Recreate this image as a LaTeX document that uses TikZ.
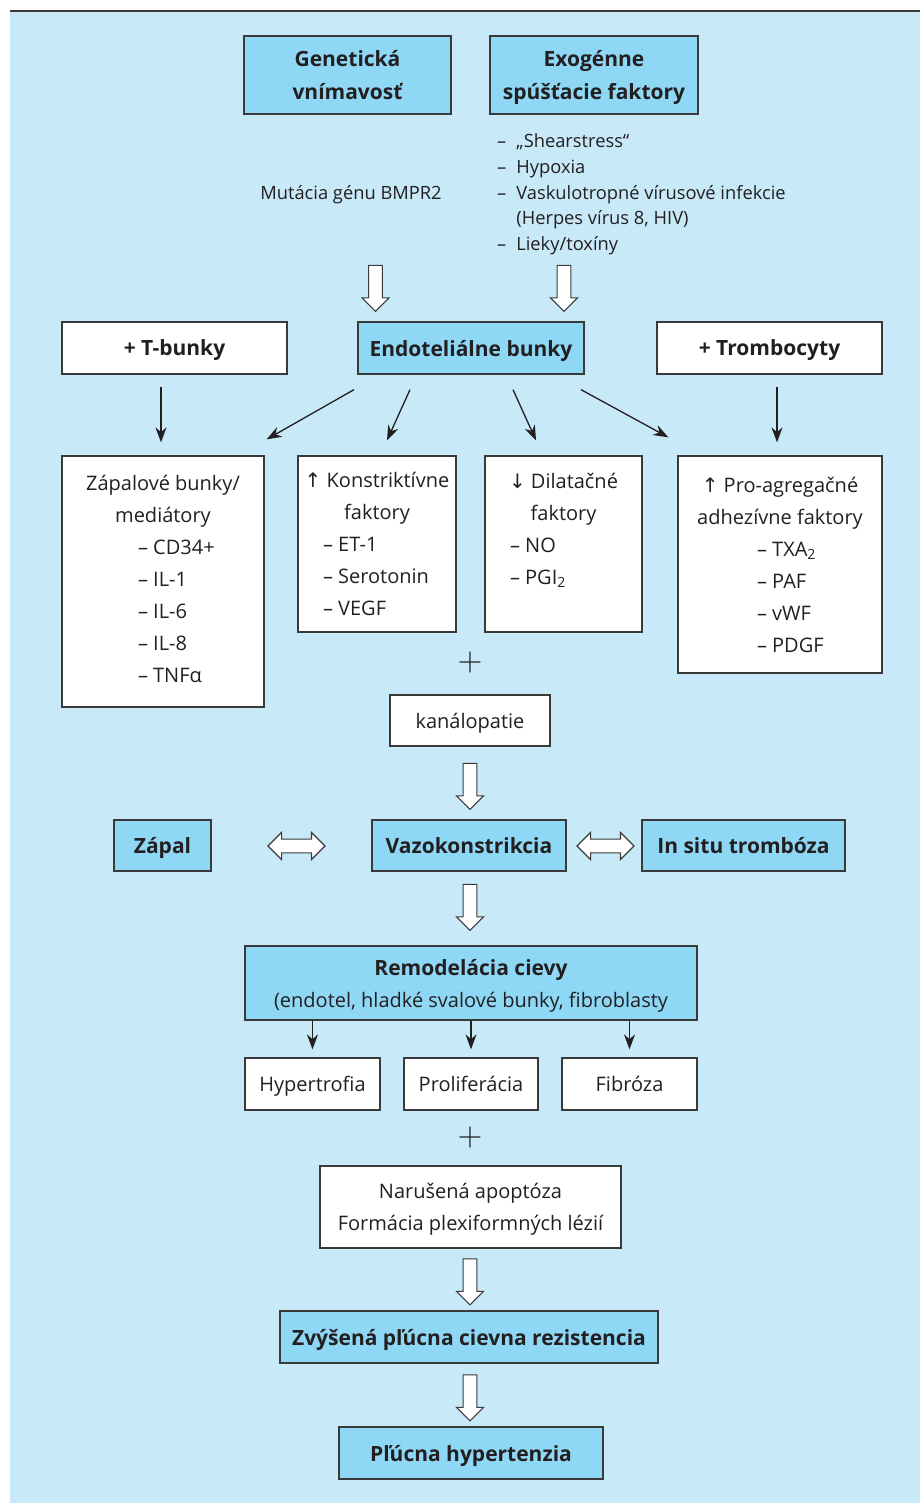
\documentclass[tikz,border=0pt]{standalone}
\usepackage{fontspec}
\setmainfont{Open Sans}
\newfontfamily\arrfont{DejaVu Sans}
\usepackage{graphicx}
\usepackage{tikz}
\usetikzlibrary{arrows.meta,shapes.arrows,positioning}
\definecolor{bgblue}{HTML}{C7E9F8}
\definecolor{boxblue}{HTML}{8ED8F6}
\definecolor{edge}{HTML}{3A3A3A}
\definecolor{ink}{HTML}{231F20}
\newcommand{\boxfont}{\fontsize{20}{32}\selectfont}
\newcommand{\titlefont}{\fontsize{21}{33}\selectfont\bfseries}
\newcommand{\listfont}{\fontsize{18.3}{25.7}\selectfont}
\newcommand{\upa}{{\arrfont ↑}}
\newcommand{\dna}{{\arrfont ↓}}
\newcommand{\itm}[2]{\makebox[#1pt][l]{– #2}}

\begin{document}
\begin{tikzpicture}[
    x=1pt, y=-1pt, % one unit = one pixel of the figure
    every node/.style={text=ink, font=\boxfont},
    bluebox/.style={draw=edge, line width=1.3pt, fill=boxblue, inner sep=0pt, align=center, text depth=0pt, font=\titlefont},
    whitebox/.style={draw=edge, line width=1.3pt, fill=white, inner sep=0pt, align=center, text depth=0pt},
    arr/.style={-{Stealth[length=15pt,width=11pt]}, line width=1.3pt, draw=ink},
    hollow/.style={single arrow, draw=edge, fill=white, line width=1.1pt, inner sep=6.3pt,
        minimum height=46pt, minimum width=26pt, single arrow head extend=6.7pt, rotate=-90},
    dhollow/.style={double arrow, draw=edge, fill=white, line width=1.1pt, inner sep=6.3pt,
        minimum height=57pt, minimum width=26pt, double arrow head extend=6.7pt}
]
    \useasboundingbox (0,0) rectangle (920,1503);
    \fill[edge] (10,10) rectangle (920,12.5);
    \fill[bgblue] (10,12.5) rectangle (920,1503);

    % causes
    \node[bluebox, minimum width=207pt, minimum height=78pt] (gen) at (347.5,75) {Genetická\\vnímavosť};
    \node[bluebox, minimum width=208pt, minimum height=78pt] (exo) at (594,75) {Exogénne\\spúšťacie faktory};
    \node[font=\listfont] (mut) at (351,194.5) {Mutácia génu BMPR2};
    \node[font=\listfont, anchor=west, inner sep=0pt] (trig) at (497,194) {%
        \begin{tabular}{@{}l@{\hspace{10pt}}l@{}}
        – & „Shearstress“\\
        – & Hypoxia\\
        – & Vaskulotropné vírusové infekcie\\
          & (Herpes vírus 8, HIV)\\
        – & Lieky/toxíny
        \end{tabular}};
    \node[hollow] (h1) at (375.5,285) {};
    \node[hollow] (h2) at (564,285) {};

    % cells
    \node[whitebox, font=\titlefont, minimum width=225pt, minimum height=52pt] (tcell) at (174.5,348) {+ T-bunky};
    \node[bluebox, minimum width=226pt, minimum height=52pt] (endo) at (471,348) {Endoteliálne bunky};
    \node[whitebox, font=\titlefont, minimum width=225pt, minimum height=52pt] (tromb) at (769.5,348) {+ Trombocyty};

    % factors
    \node[whitebox, text depth=6pt, minimum width=202pt, minimum height=251pt] (zap) at (163,581.5)
        {Zápalové bunky/\\mediátory\\\itm{50}{CD34+}\\\itm{50}{IL-1}\\\itm{50}{IL-6}\\\itm{50}{IL-8}\\\itm{50}{TNFα}};
    \node[whitebox, minimum width=158pt, minimum height=176pt] (kon) at (377,544)
        {\upa\ Konstriktívne\\faktory\\\itm{108}{ET-1}\\\itm{108}{Serotonin}\\\itm{108}{VEGF}};
    \node[whitebox, text depth=30pt, minimum width=157pt, minimum height=176pt] (dil) at (563.5,544)
        {\dna\ Dilatačné\\faktory\\\itm{107}{NO}\\\itm{107}{PGI\textsubscript{2}}};
    \node[whitebox, minimum width=204pt, minimum height=217pt] (pro) at (780,564.5)
        {\upa\ Pro-agregačné\\adhezívne faktory\\\itm{46}{TXA\textsubscript{2}}\\\itm{46}{PAF}\\\itm{46}{vWF}\\\itm{46}{PDGF}};

    \draw[arr] ([xshift=-13.5pt,yshift=-12pt]tcell.south) -- ([xshift=-2pt,yshift=13pt]zap.north);
    \draw[arr] ([xshift=-117pt,yshift=-15pt]endo.south) -- ([xshift=2pt,yshift=16pt]zap.north east);
    \draw[arr] ([xshift=-61pt,yshift=-15pt]endo.south) -- ([xshift=10pt,yshift=15pt]kon.north);
    \draw[arr] ([xshift=42pt,yshift=-15pt]endo.south) -- ([xshift=-27.5pt,yshift=15pt]dil.north);
    \draw[arr] ([xshift=110pt,yshift=-15pt]endo.south) -- ([xshift=-9pt,yshift=18pt]pro.north west);
    \draw[arr] ([xshift=7.5pt,yshift=-12pt]tromb.south) -- ([xshift=-3pt,yshift=13pt]pro.north);

    \node[font=\normalsize] (plus1) at (470,662) {\scalebox{3.2}{$+$}};
    \node[whitebox, minimum width=160pt, minimum height=51pt] (kan) at (470,720.5) {kanálopatie};
    \node[hollow] (h3) at (470,783) {};

    % vasoconstriction row
    \node[bluebox, minimum width=97pt, minimum height=51pt] (zapal) at (162.5,845.5) {Zápal};
    \node[bluebox, minimum width=194pt, minimum height=51pt] (vazo) at (469,845.5) {Vazokonstrikcia};
    \node[bluebox, minimum width=203pt, minimum height=51pt] (situ) at (743.5,845.5) {In situ trombóza};
    \node[dhollow] (d1) at (296.5,846) {};
    \node[dhollow] (d2) at (605.5,846) {};
    \node[hollow] (h4) at (470,904) {};

    % remodelling
    \node[bluebox, font=\boxfont, minimum width=452pt, minimum height=74pt] (rem) at (471,983)
        {{\titlefont Remodelácia cievy}\\(endotel, hladké svalové bunky, fibroblasty};
    \node[whitebox, minimum width=135pt, minimum height=52pt] (hyp) at (312.5,1084) {Hypertrofia};
    \node[whitebox, minimum width=134pt, minimum height=52pt] (prol) [right=22.7pt of hyp] {Proliferácia};
    \node[whitebox, minimum width=135pt, minimum height=52pt] (fib) [right=22.7pt of prol] {Fibróza};
    \draw[arr, shorten >=8pt] (rem.south -| hyp.north) -- (hyp.north);
    \draw[arr, shorten >=8pt] (rem.south -| prol.north) -- (prol.north);
    \draw[arr, shorten >=8pt] (rem.south -| fib.north) -- (fib.north);

    \node[font=\normalsize] (plus2) at (470,1137) {\scalebox{3.2}{$+$}};
    \node[whitebox, minimum width=301pt, minimum height=82pt] (nar) at (470.5,1207)
        {Narušená apoptóza\\Formácia plexiformných lézií};
    \node[hollow] (h5) at (470,1278.5) {};
    \node[bluebox, minimum width=378pt, minimum height=52pt] (zvy) at (469,1337) {Zvýšená pľúcna cievna rezistencia};
    \node[hollow] (h6) at (470,1394.5) {};
    \node[bluebox, minimum width=264pt, minimum height=52pt] (ph) at (471,1453) {Pľúcna hypertenzia};
\end{tikzpicture}
\end{document}
